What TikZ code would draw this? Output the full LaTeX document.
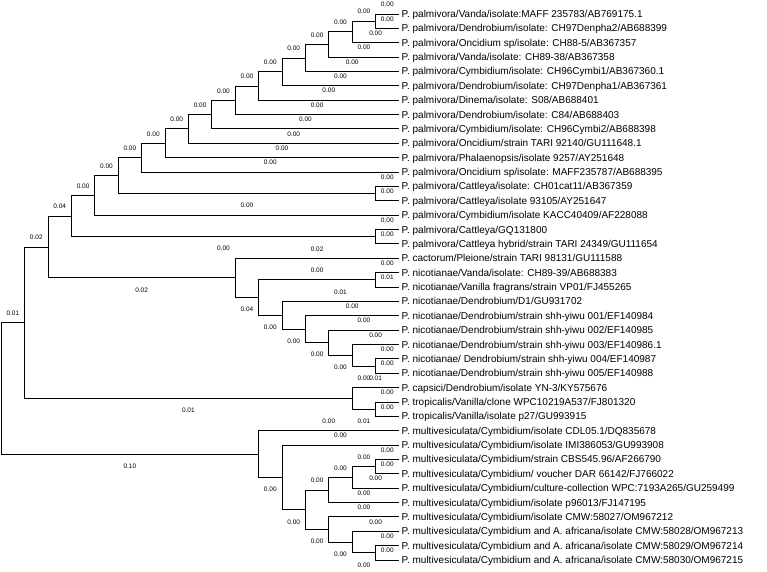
\documentclass[tikz,border=0pt]{standalone}
\usepackage{fontspec}
\setmainfont{Liberation Sans}
\usetikzlibrary{calc}
\tikzset{
  br/.style={line width=1pt, black},
  leaf/.style={anchor=west, inner xsep=2.5pt, inner ysep=0pt, text height=7pt, text depth=0pt, font=\fontsize{10}{12}\selectfont},
  blab/.style={inner sep=0pt, font=\fontsize{6.5}{7.5}\selectfont},
}
% name, level, upper child, lower child
\newcommand\treenode[4]{\path let \p1=($(#3)!0.5!(#4)$) in coordinate (#1) at ({1.2pt+23.4pt*#2},\y1);
\draw[br] (#1) |- (#3) (#1) |- (#4);}
% name, parent, child, text, offset
\newcommand\brlabel[5]{\path let \p1=(#2), \p2=(#3) in node[blab] (#1) at ({(\x1+\x2)/2},{\y2+#5}) {#4};}
\begin{document}
\begin{tikzpicture}[x=1pt,y=-1pt]
\useasboundingbox (0,0) rectangle (767,571);
% leaves
\node[leaf] (L1) at (399,{14+14.37*0}) {P. palmivora/Vanda/isolate:MAFF 235783/AB769175.1};
\node[leaf] (L2) at (399,{14+14.37*1}) {P. palmivora/Dendrobium/isolate: CH97Denpha2/AB688399};
\node[leaf] (L3) at (399,{14+14.37*2}) {P. palmivora/Oncidium sp/isolate: CH88-5/AB367357};
\node[leaf] (L4) at (399,{14+14.37*3}) {P. palmivora/Vanda/isolate: CH89-38/AB367358};
\node[leaf] (L5) at (399,{14+14.37*4}) {P. palmivora/Cymbidium/isolate: CH96Cymbi1/AB367360.1};
\node[leaf] (L6) at (399,{14+14.37*5}) {P. palmivora/Dendrobium/isolate: CH97Denpha1/AB367361};
\node[leaf] (L7) at (399,{14+14.37*6}) {P. palmivora/Dinema/isolate: S08/AB688401};
\node[leaf] (L8) at (399,{14+14.37*7}) {P. palmivora/Dendrobium/isolate: C84/AB688403};
\node[leaf] (L9) at (399,{14+14.37*8}) {P. palmivora/Cymbidium/isolate: CH96Cymbi2/AB688398};
\node[leaf] (L10) at (399,{14+14.37*9}) {P. palmivora/Oncidium/strain TARI 92140/GU111648.1};
\node[leaf] (L11) at (399,{14+14.37*10}) {P. palmivora/Phalaenopsis/isolate 9257/AY251648};
\node[leaf] (L12) at (399,{14+14.37*11}) {P. palmivora/Oncidium sp/isolate: MAFF235787/AB688395};
\node[leaf] (L13) at (399,{14+14.37*12}) {P. palmivora/Cattleya/isolate: CH01cat11/AB367359};
\node[leaf] (L14) at (399,{14+14.37*13}) {P. palmivora/Cattleya/isolate 93105/AY251647};
\node[leaf] (L15) at (399,{14+14.37*14}) {P. palmivora/Cymbidium/isolate KACC40409/AF228088};
\node[leaf] (L16) at (399,{14+14.37*15}) {P. palmivora/Cattleya/GQ131800};
\node[leaf] (L17) at (399,{14+14.37*16}) {P. palmivora/Cattleya hybrid/strain TARI 24349/GU111654};
\node[leaf] (L18) at (399,{14+14.37*17}) {P. cactorum/Pleione/strain TARI 98131/GU111588};
\node[leaf] (L19) at (399,{14+14.37*18}) {P. nicotianae/Vanda/isolate: CH89-39/AB688383};
\node[leaf] (L20) at (399,{14+14.37*19}) {P. nicotianae/Vanilla fragrans/strain VP01/FJ455265};
\node[leaf] (L21) at (399,{14+14.37*20}) {P. nicotianae/Dendrobium/D1/GU931702};
\node[leaf] (L22) at (399,{14+14.37*21}) {P. nicotianae/Dendrobium/strain shh-yiwu 001/EF140984};
\node[leaf] (L23) at (399,{14+14.37*22}) {P. nicotianae/Dendrobium/strain shh-yiwu 002/EF140985};
\node[leaf] (L24) at (399,{14+14.37*23}) {P. nicotianae/Dendrobium/strain shh-yiwu 003/EF140986.1};
\node[leaf] (L25) at (399,{14+14.37*24}) {P. nicotianae/ Dendrobium/strain shh-yiwu 004/EF140987};
\node[leaf] (L26) at (399,{14+14.37*25}) {P. nicotianae/Dendrobium/strain shh-yiwu 005/EF140988};
\node[leaf] (L27) at (399,{14+14.37*26}) {P. capsici/Dendrobium/isolate YN-3/KY575676};
\node[leaf] (L28) at (399,{14+14.37*27}) {P. tropicalis/Vanilla/clone WPC10219A537/FJ801320};
\node[leaf] (L29) at (399,{14+14.37*28}) {P. tropicalis/Vanilla/isolate p27/GU993915};
\node[leaf] (L30) at (399,{14+14.37*29}) {P. multivesiculata/Cymbidium/isolate CDL05.1/DQ835678};
\node[leaf] (L31) at (399,{14+14.37*30}) {P. multivesiculata/Cymbidium/isolate IMI386053/GU993908};
\node[leaf] (L32) at (399,{14+14.37*31}) {P. multivesiculata/Cymbidium/strain CBS545.96/AF266790};
\node[leaf] (L33) at (399,{14+14.37*32}) {P. multivesiculata/Cymbidium/ voucher DAR 66142/FJ766022};
\node[leaf] (L34) at (399,{14+14.37*33}) {P. multivesiculata/Cymbidium/culture-collection WPC:7193A265/GU259499};
\node[leaf] (L35) at (399,{14+14.37*34}) {P. multivesiculata/Cymbidium/isolate p96013/FJ147195};
\node[leaf] (L36) at (399,{14+14.37*35}) {P. multivesiculata/Cymbidium/isolate CMW:58027/OM967212};
\node[leaf] (L37) at (399,{14+14.37*36}) {P. multivesiculata/Cymbidium and A. africana/isolate CMW:58028/OM967213};
\node[leaf] (L38) at (399,{14+14.37*37}) {P. multivesiculata/Cymbidium and A. africana/isolate CMW:58029/OM967214};
\node[leaf] (L39) at (399,{14+14.37*38}) {P. multivesiculata/Cymbidium and A. africana/isolate CMW:58030/OM967215};
% palmivora clade
\treenode{N1}{16}{L1.west}{L2.west}
\treenode{N2}{15}{N1}{L3.west}
\treenode{N3}{14}{N2}{L4.west}
\treenode{N4}{13}{N3}{L5.west}
\treenode{N5}{12}{N4}{L6.west}
\treenode{N6}{11}{N5}{L7.west}
\treenode{N7}{10}{N6}{L8.west}
\treenode{N8}{9}{N7}{L9.west}
\treenode{N9}{8}{N8}{L10.west}
\treenode{N10}{7}{N9}{L11.west}
\treenode{N11}{6}{N10}{L12.west}
\treenode{Ka}{16}{L13.west}{L14.west}
\treenode{N12}{5}{N11}{Ka}
\treenode{N13}{4}{N12}{L15.west}
\treenode{Kb}{16}{L16.west}{L17.west}
\treenode{N14}{3}{N13}{Kb}
% cactorum / nicotianae clade
\treenode{C7}{16}{L25.west}{L26.west}
\treenode{C6}{15}{L24.west}{C7}
\treenode{C5}{14}{L23.west}{C6}
\treenode{C4}{13}{L22.west}{C5}
\treenode{C3}{12}{L21.west}{C4}
\treenode{Kc}{16}{L19.west}{L20.west}
\treenode{C2}{11}{Kc}{C3}
\treenode{C1}{10}{L18.west}{C2}
\treenode{N15}{2}{N14}{C1}
% capsici / tropicalis
\treenode{T2}{16}{L28.west}{L29.west}
\treenode{T1}{15}{L27.west}{T2}
\treenode{N16}{1}{N15}{T1}
% multivesiculata
\treenode{M7}{16}{L32.west}{L33.west}
\treenode{M6}{15}{M7}{L34.west}
\treenode{M4}{14}{M6}{L35.west}
\treenode{M9}{16}{L38.west}{L39.west}
\treenode{M8}{15}{L37.west}{M9}
\treenode{M5}{14}{L36.west}{M8}
\treenode{M3}{13}{M4}{M5}
\treenode{M2}{12}{L31.west}{M3}
\treenode{M1}{11}{L30.west}{M2}
\treenode{R}{0}{N16}{M1}
% branch labels on leaf branches
\brlabel{bL1}{N1}{L1.west}{0.00}{9.5pt}
\brlabel{bL2}{N1}{L2.west}{0.00}{9.5pt}
\brlabel{bL3}{N2}{L3.west}{0.00}{9.5pt}
\brlabel{bL4}{N3}{L4.west}{0.00}{9.5pt}
\brlabel{bL5}{N4}{L5.west}{0.00}{9.5pt}
\brlabel{bL6}{N5}{L6.west}{0.00}{9.5pt}
\brlabel{bL7}{N6}{L7.west}{0.00}{9.5pt}
\brlabel{bL8}{N7}{L8.west}{0.00}{9.5pt}
\brlabel{bL9}{N8}{L9.west}{0.00}{9.5pt}
\brlabel{bL10}{N9}{L10.west}{0.00}{9.5pt}
\brlabel{bL11}{N10}{L11.west}{0.00}{9.5pt}
\brlabel{bL12}{N11}{L12.west}{0.00}{9.5pt}
\brlabel{bL13}{Ka}{L13.west}{0.00}{9.5pt}
\brlabel{bL14}{Ka}{L14.west}{0.00}{9.5pt}
\brlabel{bL15}{N13}{L15.west}{0.00}{9.5pt}
\brlabel{bL16}{Kb}{L16.west}{0.00}{9.5pt}
\brlabel{bL17}{Kb}{L17.west}{0.00}{9.5pt}
\brlabel{bL18}{C1}{L18.west}{0.02}{9.5pt}
\brlabel{bL19}{Kc}{L19.west}{0.00}{9.5pt}
\brlabel{bL20}{Kc}{L20.west}{0.01}{9.5pt}
\brlabel{bL21}{C3}{L21.west}{0.01}{9.5pt}
\brlabel{bL22}{C4}{L22.west}{0.00}{9.5pt}
\brlabel{bL23}{C5}{L23.west}{0.00}{9.5pt}
\brlabel{bL24}{C6}{L24.west}{0.00}{9.5pt}
\brlabel{bL25}{C7}{L25.west}{0.00}{9.5pt}
\brlabel{bL26}{C7}{L26.west}{0.00}{9.5pt}
\brlabel{bL27}{T1}{L27.west}{0.01}{9.5pt}
\brlabel{bL28}{T2}{L28.west}{0.00}{9.5pt}
\brlabel{bL29}{T2}{L29.west}{0.00}{9.5pt}
\brlabel{bL30}{M1}{L30.west}{0.00}{9.5pt}
\brlabel{bL31}{M2}{L31.west}{0.00}{9.5pt}
\brlabel{bL32}{M7}{L32.west}{0.00}{9.5pt}
\brlabel{bL33}{M7}{L33.west}{0.00}{9.5pt}
\brlabel{bL34}{M6}{L34.west}{0.00}{9.5pt}
\brlabel{bL35}{M4}{L35.west}{0.00}{9.5pt}
\brlabel{bL36}{M5}{L36.west}{0.00}{9.5pt}
\brlabel{bL37}{M8}{L37.west}{0.00}{9.5pt}
\brlabel{bL38}{M9}{L38.west}{0.00}{9.5pt}
\brlabel{bL39}{M9}{L39.west}{0.00}{9.5pt}
% internal branch labels, above
\brlabel{bN1}{N2}{N1}{0.00}{9.5pt}
\brlabel{bN2}{N3}{N2}{0.00}{9.5pt}
\brlabel{bN3}{N4}{N3}{0.00}{9.5pt}
\brlabel{bN4}{N5}{N4}{0.00}{9.5pt}
\brlabel{bN5}{N6}{N5}{0.00}{9.5pt}
\brlabel{bN6}{N7}{N6}{0.00}{9.5pt}
\brlabel{bN7}{N8}{N7}{0.00}{9.5pt}
\brlabel{bN8}{N9}{N8}{0.00}{9.5pt}
\brlabel{bN9}{N10}{N9}{0.00}{9.5pt}
\brlabel{bN10}{N11}{N10}{0.00}{9.5pt}
\brlabel{bN11}{N12}{N11}{0.00}{9.5pt}
\brlabel{bN12}{N13}{N12}{0.00}{9.5pt}
\brlabel{bN13}{N14}{N13}{0.00}{9.5pt}
\brlabel{bN14}{N15}{N14}{0.04}{9.5pt}
\brlabel{bN15}{N16}{N15}{0.02}{9.5pt}
\brlabel{bN16}{R}{N16}{0.01}{9.5pt}
\brlabel{bKc}{C2}{Kc}{0.00}{9.5pt}
\brlabel{bM4}{M3}{M4}{0.00}{9.5pt}
\brlabel{bM6}{M4}{M6}{0.00}{9.5pt}
\brlabel{bM7}{M6}{M7}{0.00}{9.5pt}
% internal branch labels, below
\brlabel{bKb}{N14}{Kb}{0.00}{-12pt}
\brlabel{bC1}{N15}{C1}{0.02}{-12pt}
\brlabel{bC2}{C1}{C2}{0.04}{-12pt}
\brlabel{bC3}{C2}{C3}{0.00}{-12pt}
\brlabel{bC4}{C3}{C4}{0.00}{-12pt}
\brlabel{bC5}{C4}{C5}{0.00}{-12pt}
\brlabel{bC6}{C5}{C6}{0.00}{-12pt}
\brlabel{bC7}{C6}{C7}{0.00}{-12pt}
\brlabel{bT1}{N16}{T1}{0.01}{-12pt}
\brlabel{bT2}{T1}{T2}{0.01}{-12pt}
\brlabel{bM1}{R}{M1}{0.10}{-12pt}
\brlabel{bM2}{M1}{M2}{0.00}{-12pt}
\brlabel{bM3}{M2}{M3}{0.00}{-12pt}
\brlabel{bM5}{M3}{M5}{0.00}{-12pt}
\brlabel{bM8}{M5}{M8}{0.00}{-12pt}
\brlabel{bM9}{M8}{M9}{0.00}{-12pt}
\end{tikzpicture}
\end{document}
